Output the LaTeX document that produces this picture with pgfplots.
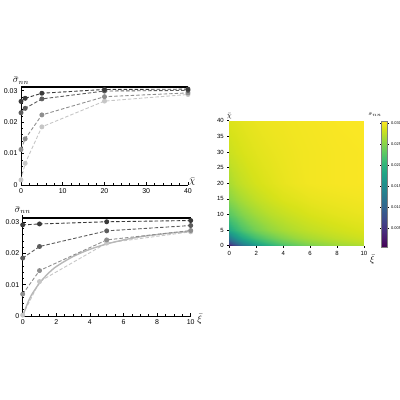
\documentclass[border=0pt]{standalone}
\usepackage{pgfplots}
\pgfplotsset{compat=1.18}
\usepackage{fontspec}
\setmainfont{Liberation Sans}
\definecolor{g1}{HTML}{3A3A3A}
\definecolor{g2}{HTML}{5C5C5C}
\definecolor{g3}{HTML}{8E8E8E}
\definecolor{g4}{HTML}{C6C6C6}
\definecolor{g5}{HTML}{B8B8B8}
\pgfplotsset{
  leftstyle/.style={
    scale only axis,
    axis lines=left,
    axis line style={-, line width=0.6pt},
    tick align=inside,
    major tick length=3pt,
    minor tick length=1.6pt,
    tick style={black, line width=0.5pt},
    /pgf/number format/assume math mode=true,
    tick label style={font=\fontsize{7}{8}\selectfont},
    scaled y ticks=false,
    ymin=0,
    ytick={0,0.01,0.02,0.03},
    yticklabels={0,0.01,0.02,0.03},
    minor y tick num=4,
    clip=false,
  },
  ser/.style={color=#1, dashed, dash pattern=on 3.5pt off 2pt, line width=0.9pt, mark=*, mark size=2pt, mark options={solid, fill=#1, draw=#1}},
}
\begin{document}
\begin{tikzpicture}[x=1pt,y=1pt]
\useasboundingbox (0,0) rectangle (400,400);
% ---------- top-left ----------
\begin{axis}[leftstyle,
  at={(21pt,215pt)}, anchor=south west,
  width=167pt, height=99.3pt,
  xmin=0, xmax=40, ymax=0.0316,
  xtick={0,10,20,30,40}, minor x tick num=4,
]
\addplot[ser=g4] coordinates {(0,0.0016) (1,0.0069) (5,0.0185) (20,0.0267) (40,0.0288)};
\addplot[ser=g3] coordinates {(0,0.0113) (1,0.0147) (5,0.0223) (20,0.0281) (40,0.0293)};
\addplot[ser=g2] coordinates {(0,0.0230) (1,0.0244) (5,0.0274) (20,0.0299) (40,0.0301)};
\addplot[ser=g1] coordinates {(0,0.0266) (1,0.0276) (5,0.0292) (20,0.0304) (40,0.0305)};
\addplot[black, line width=2.2pt] coordinates {(0,0.0313) (40,0.0313)};
\node[anchor=south, inner sep=1pt] at (rel axis cs:0,1) {$\bar{\sigma}_{nn}$};
\node[anchor=west, inner sep=1pt] at (rel axis cs:1,0.03) {$\bar{\chi}$};
\end{axis}
% ---------- bottom-left ----------
\begin{axis}[leftstyle,
  at={(22.7pt,84pt)}, anchor=south west,
  width=168pt, height=100.8pt,
  xmin=0, xmax=10, ymax=0.0322,
  xtick={0,2,4,6,8,10}, minor x tick num=3,
]
\addplot[ser=g4] coordinates {(0,0.0003) (1,0.0110) (5,0.0233) (10,0.0269)};
\addplot[color=g5, line width=1.4pt, smooth] coordinates {(0,0) (0.25,0.0035) (0.5,0.0065) (1,0.0105) (1.5,0.0135) (2,0.0158) (3,0.0190) (4,0.0213) (5,0.0230) (6,0.0243) (7,0.0253) (8,0.0260) (9,0.0266) (10,0.0270)};
\addplot[ser=g3] coordinates {(0,0.0070) (1,0.0145) (5,0.0243) (10,0.0273)};
\addplot[ser=g2] coordinates {(0,0.0185) (1,0.0222) (5,0.0272) (10,0.0289)};
\addplot[ser=g1] coordinates {(0,0.0291) (1,0.0294) (5,0.0301) (10,0.0305)};
\addplot[black, line width=2.2pt] coordinates {(0,0.0313) (10,0.0313)};
\node[anchor=south, inner sep=1pt] at (rel axis cs:0,1) {$\bar{\sigma}_{nn}$};
\node[anchor=west, inner sep=0pt] at ([xshift=6.5pt,yshift=-3pt]rel axis cs:1,0) {$\bar{\xi}$};
\end{axis}
% ---------- heatmap ----------
\begin{axis}[
  at={(229.3pt,154.3pt)}, anchor=south west,
  scale only axis, width=134.7pt, height=125pt,
  xmin=0, xmax=10, ymin=0, ymax=40,
  axis lines=left,
  axis line style={-, line width=0.6pt},
  tick align=outside,
  major tick length=2pt,
  tick style={black, line width=0.5pt},
  xtick={0,2,4,6,8,10}, ytick={0,5,...,40},
  /pgf/number format/assume math mode=true,
  tick label style={font=\fontsize{6}{7}\selectfont},
  colormap/viridis,
  point meta min=0.0004, point meta max=0.0306,
  colorbar,
  colorbar style={
    at={(parent axis.north east)}, anchor=north west, xshift=9pt, yshift=-0.3pt,
    width=5.5pt, height=126pt,
    scaled y ticks=false,
    ytick={0.005,0.010,0.015,0.020,0.025,0.030},
    yticklabels={0.005,0.010,0.015,0.020,0.025,0.030},
    tick align=outside, major tick length=1.5pt,
    yticklabel style={font=\fontsize{4}{4.5}\selectfont, xshift=-1pt},
    axis line style={line width=0.4pt, draw=gray},
  },
  clip=false,
]
\addplot[surf, shader=interp, mesh/ordering=x varies, mesh/cols=10, point meta=explicit] table[x index=0, y index=1, meta index=2] {
0 0 0.0010
0.5 0 0.0065
1 0 0.0110
2 0 0.0158
3 0 0.0190
4 0 0.0213
5 0 0.0231
6 0 0.0243
8 0 0.0260
10 0 0.0267
0 1 0.0070
0.5 1 0.0112
1 1 0.0147
2 1 0.0185
3 1 0.0212
4 1 0.0231
5 1 0.0244
6 1 0.0254
8 1 0.0267
10 1 0.0276
0 2.5 0.0125
0.5 2.5 0.0160
1 2.5 0.0185
2 2.5 0.0215
3 2.5 0.0235
4 2.5 0.0249
5 2.5 0.0260
6 2.5 0.0267
8 2.5 0.0277
10 2.5 0.0284
0 5 0.0185
0.5 5 0.0205
1 5 0.0222
2 5 0.0243
3 5 0.0257
4 5 0.0266
5 5 0.0273
6 5 0.0278
8 5 0.0285
10 5 0.0290
0 10 0.0228
0.5 10 0.0240
1 10 0.0251
2 10 0.0264
3 10 0.0274
4 10 0.0280
5 10 0.0285
6 10 0.0289
8 10 0.0294
10 10 0.0297
0 15 0.0252
0.5 15 0.0261
1 15 0.0268
2 15 0.0278
3 15 0.0285
4 15 0.0290
5 15 0.0293
6 15 0.0296
8 15 0.0299
10 15 0.0301
0 20 0.0267
0.5 20 0.0275
1 20 0.0280
2 20 0.0287
3 20 0.0292
4 20 0.0296
5 20 0.0299
6 20 0.0301
8 20 0.0303
10 20 0.0304
0 30 0.0282
0.5 30 0.0286
1 30 0.0289
2 30 0.0293
3 30 0.0296
4 30 0.0298
5 30 0.0300
6 30 0.0301
8 30 0.0303
10 30 0.0304
0 40 0.0290
0.5 40 0.0292
1 40 0.0294
2 40 0.0297
3 40 0.0299
4 40 0.0300
5 40 0.0301
6 40 0.0302
8 40 0.0304
10 40 0.0305
};
\node[anchor=south, inner sep=1.5pt] at (rel axis cs:0,1) {\fontsize{7}{8}\selectfont$\bar{\chi}$};
\node[anchor=north west, inner sep=0pt] at ([xshift=6pt,yshift=-9pt]rel axis cs:1,0) {\fontsize{9}{10}\selectfont$\bar{\xi}$};
\end{axis}
\node[anchor=south, inner sep=0pt] at (375pt,283pt) {\fontsize{5}{6}\selectfont$\bar{\sigma}_{nn}$};
\end{tikzpicture}
\end{document}
